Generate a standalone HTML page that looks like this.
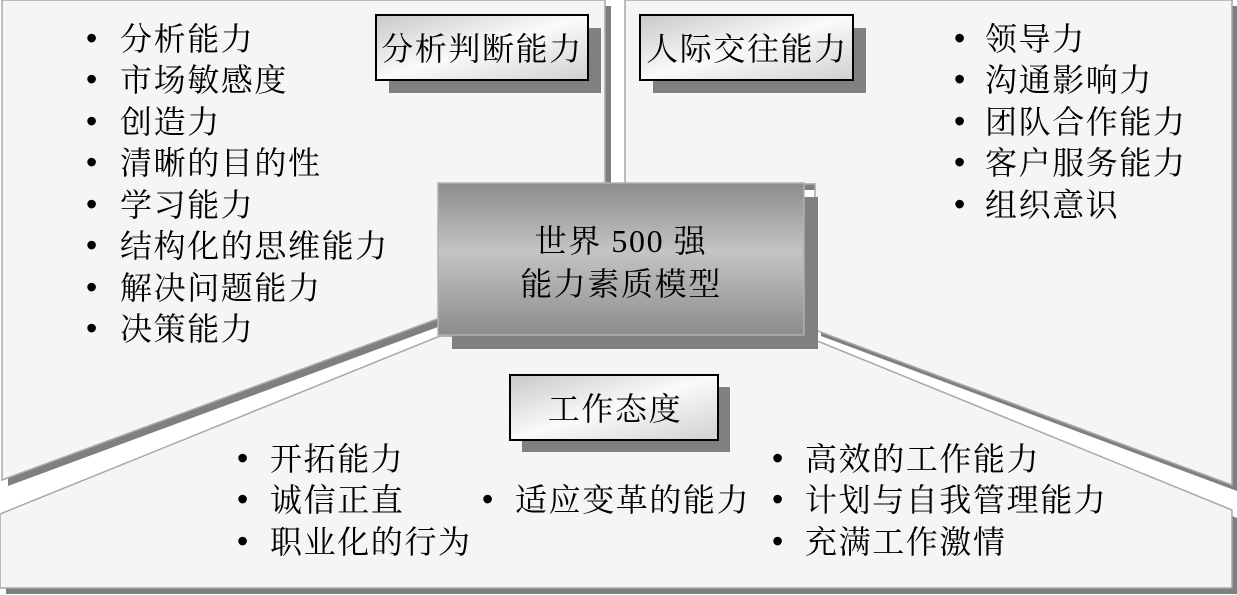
<!DOCTYPE html>
<html><head><meta charset="utf-8"><style>
body{margin:0;background:#fff;}
svg{display:block}
text{font-family:"Liberation Serif","Noto Serif CJK SC",serif;font-size:32px;letter-spacing:1.6px;fill:#000}
.b{font-family:"Liberation Sans",sans-serif;letter-spacing:0}
</style></head><body>
<svg width="1237" height="595" viewBox="0 0 1237 595" xmlns="http://www.w3.org/2000/svg">
<defs>
<linearGradient id="g" x1="0" y1="0" x2="0" y2="1">
<stop offset="0" stop-color="#8c8c8c"/><stop offset="0.45" stop-color="#c4c4c4"/><stop offset="1" stop-color="#8c8c8c"/>
</linearGradient>
<linearGradient id="t" x1="0" y1="0" x2="1" y2="1">
<stop offset="0" stop-color="#c8c8c8"/><stop offset="0.5" stop-color="#fafafa"/><stop offset="1" stop-color="#d0d0d0"/>
</linearGradient>
</defs>
<polygon points="8,6 611,6 611,190 446,190 446,324 8,486" fill="#7f7f7f"/>
<polygon points="631,6 1237,6 1237,491 821,336 821,190 631,190" fill="#7f7f7f"/>
<polygon points="6,521 446,341 821,346 1237,518 1237,594 6,594" fill="#7f7f7f"/>
<polygon points="2,0 605,0 605,184 440,184 440,318 2,480" fill="#f5f5f5" stroke="#a8a8a8" stroke-width="1.5"/>
<polygon points="625,0 1232,0 1232,485 815,330 815,184 625,184" fill="#f5f5f5" stroke="#a8a8a8" stroke-width="1.5"/>
<polygon points="0,514 440,336 815,340 1232,510 1232,588 0,588" fill="#f5f5f5" stroke="#a8a8a8" stroke-width="1.5"/>
<rect x="452" y="197" width="366" height="152" fill="#808080"/>
<rect x="438" y="183" width="366" height="152" fill="url(#g)" stroke="#b0b0b0" stroke-width="1.5"/>
<text x="621" y="252" text-anchor="middle" font-size="32">世界 500 强</text>
<text x="621" y="295" text-anchor="middle" font-size="32">能力素质模型</text>
<rect x="389" y="28" width="212" height="65" fill="#808080"/>
<rect x="376" y="15" width="212" height="65" fill="url(#t)" stroke="#000" stroke-width="2"/>
<text x="482" y="60" text-anchor="middle">分析判断能力</text>
<rect x="653" y="28" width="213" height="65" fill="#808080"/>
<rect x="640" y="15" width="213" height="65" fill="url(#t)" stroke="#000" stroke-width="2"/>
<text x="747" y="60" text-anchor="middle">人际交往能力</text>
<rect x="522" y="387" width="208" height="65" fill="#808080"/>
<rect x="510" y="375" width="208" height="65" fill="url(#t)" stroke="#000" stroke-width="2"/>
<text x="615" y="420" text-anchor="middle">工作态度</text>
<g>
<text class="b" x="86" y="49">•</text><text x="120" y="50">分析能力</text>
<text class="b" x="86" y="90">•</text><text x="120" y="91">市场敏感度</text>
<text class="b" x="86" y="132">•</text><text x="120" y="133">创造力</text>
<text class="b" x="86" y="173">•</text><text x="120" y="174">清晰的目的性</text>
<text class="b" x="86" y="215">•</text><text x="120" y="216">学习能力</text>
<text class="b" x="86" y="256">•</text><text x="120" y="257">结构化的思维能力</text>
<text class="b" x="86" y="298">•</text><text x="120" y="299">解决问题能力</text>
<text class="b" x="86" y="339">•</text><text x="120" y="340">决策能力</text>
</g>
<g>
<text class="b" x="954" y="49">•</text><text x="985" y="50">领导力</text>
<text class="b" x="954" y="90">•</text><text x="985" y="91">沟通影响力</text>
<text class="b" x="954" y="132">•</text><text x="985" y="133">团队合作能力</text>
<text class="b" x="954" y="173">•</text><text x="985" y="174">客户服务能力</text>
<text class="b" x="954" y="215">•</text><text x="985" y="216">组织意识</text>
</g>
<g>
<text class="b" x="237" y="469">•</text><text x="270" y="470">开拓能力</text>
<text class="b" x="237" y="510">•</text><text x="270" y="511">诚信正直</text>
<text class="b" x="237" y="552">•</text><text x="270" y="553">职业化的行为</text>
<text class="b" x="482" y="510">•</text><text x="515" y="511">适应变革的能力</text>
<text class="b" x="772" y="469">•</text><text x="805" y="470">高效的工作能力</text>
<text class="b" x="772" y="510">•</text><text x="805" y="511">计划与自我管理能力</text>
<text class="b" x="772" y="552">•</text><text x="805" y="553">充满工作激情</text>
</g>
</svg>
</body></html>
